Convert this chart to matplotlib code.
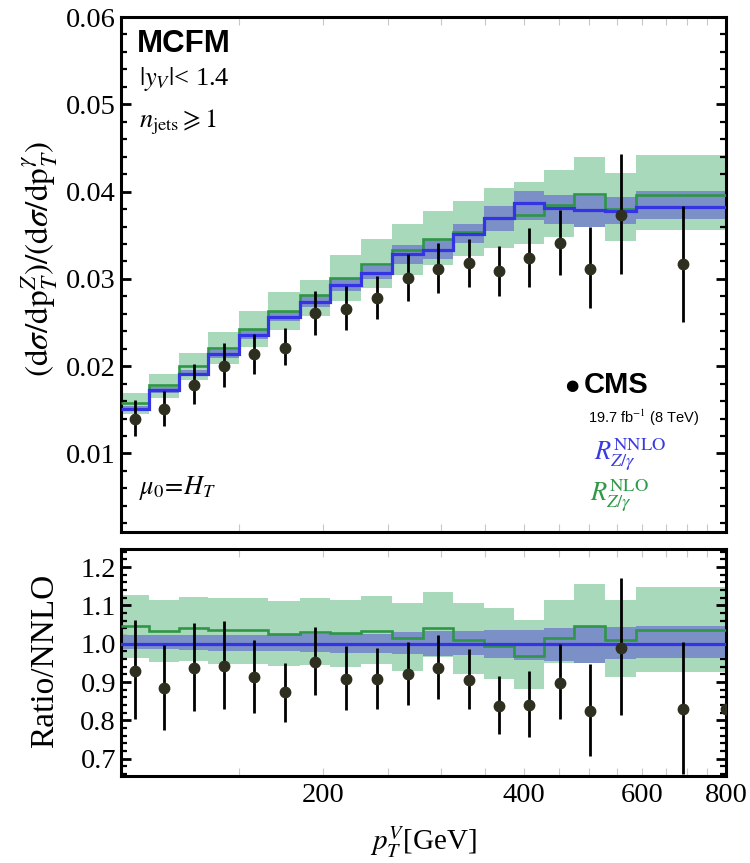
import numpy as np
import matplotlib
matplotlib.use("Agg")
import matplotlib.pyplot as plt
from matplotlib.ticker import FixedLocator, NullFormatter, MultipleLocator

plt.rcParams['font.family'] = ['Liberation Serif', 'DejaVu Serif']
plt.rcParams['mathtext.fontset'] = 'stix'

# ---------------- data ----------------
edges = [100, 110, 122, 135, 150, 166, 185, 205, 228, 254, 282, 313, 348, 386, 428, 475, 528, 587, 800]

nnlo = [0.01509, 0.01724, 0.01916, 0.02134, 0.02356, 0.02563, 0.02739, 0.02930, 0.03071,
        0.03284, 0.03332, 0.03513, 0.03700, 0.03866, 0.03813, 0.03790, 0.03774, 0.03828]
nnlo_lo = [0.01485, 0.01698, 0.01884, 0.02096, 0.02314, 0.02512, 0.02679, 0.02860, 0.02997,
           0.03169, 0.03226, 0.03410, 0.03552, 0.03675, 0.03629, 0.03590, 0.03629, 0.03686]
nnlo_hi = [0.01545, 0.01762, 0.01958, 0.02185, 0.02413, 0.02627, 0.02810, 0.03009, 0.03149,
           0.03387, 0.03445, 0.03629, 0.03839, 0.04011, 0.03962, 0.03954, 0.03935, 0.04003]

nlo = [0.01578, 0.01782, 0.01997, 0.02207, 0.02429, 0.02628, 0.02820, 0.03008, 0.03172,
       0.03326, 0.03462, 0.03540, 0.03698, 0.03732, 0.03851, 0.03974, 0.03801, 0.03966]
nlo_lo = [0.01452, 0.01636, 0.01836, 0.02027, 0.02222, 0.02410, 0.02575, 0.02751, 0.02897,
          0.03048, 0.03160, 0.03258, 0.03353, 0.03399, 0.03483, 0.03590, 0.03437, 0.03560]
nlo_hi = [0.01690, 0.01916, 0.02153, 0.02391, 0.02632, 0.02851, 0.02989, 0.03274, 0.03456,
          0.03629, 0.03782, 0.03887, 0.04043, 0.04107, 0.04250, 0.04394, 0.04210, 0.04414]

cms_x = [105, 116, 128.5, 142.5, 158, 175.5, 195, 216.5, 241, 268, 297.5, 330.5, 367, 407,
         451.5, 501.5, 557.5, 690]
cms_y = [0.0140, 0.0151, 0.0179, 0.0200, 0.02134, 0.02211, 0.02606, 0.02650, 0.02776,
         0.03006, 0.03111, 0.03178, 0.03086, 0.03238, 0.03410, 0.03111, 0.03732, 0.03169]
cms_hi = [0.0161, 0.01721, 0.02027, 0.02268, 0.02368, 0.02433, 0.02858, 0.02916, 0.03038,
          0.03284, 0.03408, 0.03460, 0.03379, 0.03583, 0.03793, 0.03590, 0.04433, 0.03839]
cms_lo = [0.01195, 0.01318, 0.01567, 0.01759, 0.01911, 0.02019, 0.02360, 0.02410, 0.02537,
          0.02747, 0.02843, 0.02905, 0.02805, 0.02908, 0.03043, 0.02663, 0.03061, 0.02509]

# ratio panel
r_nlo = [1.046, 1.033, 1.041, 1.035, 1.035, 1.025, 1.031, 1.027, 1.033, 1.014, 1.040, 1.009,
         0.994, 0.967, 1.014, 1.047, 1.009, 1.035]
r_nlo_hi = [1.127, 1.114, 1.122, 1.118, 1.119, 1.112, 1.119, 1.115, 1.124, 1.107, 1.134, 1.107,
            1.092, 1.061, 1.114, 1.155, 1.115, 1.148]
r_nlo_lo = [0.964, 0.953, 0.955, 0.947, 0.946, 0.941, 0.944, 0.940, 0.948, 0.929, 0.966, 0.920,
            0.909, 0.881, 0.950, 0.950, 0.913, 0.926]
r_nnlo_hi = [1.022, 1.022, 1.022, 1.024, 1.024, 1.025, 1.026, 1.027, 1.026, 1.030, 1.032, 1.033,
             1.036, 1.037, 1.040, 1.043, 1.043, 1.045]
r_nnlo_lo = [0.985, 0.985, 0.983, 0.982, 0.982, 0.980, 0.978, 0.976, 0.975, 0.972, 0.968, 0.970,
             0.963, 0.958, 0.955, 0.950, 0.960, 0.963]

r_x = [105, 116, 128.5, 142.5, 158, 175.5, 195, 216.5, 241, 268, 297.5, 330.5, 367, 407,
       451.5, 501.5, 557.5, 690, 800]
r_y = [0.929, 0.885, 0.938, 0.943, 0.912, 0.873, 0.953, 0.909, 0.909, 0.920, 0.938, 0.906,
       0.838, 0.841, 0.898, 0.825, 0.990, 0.831, 0.831]
r_hi = [1.061, 0.996, 1.053, 1.059, 1.009, 0.950, 1.044, 0.993, 0.990, 1.005, 1.022, 0.986,
        0.915, 0.929, 0.999, 0.948, 1.172, 1.005, 0.831]
r_lo = [0.803, 0.776, 0.825, 0.831, 0.820, 0.796, 0.866, 0.828, 0.829, 0.839, 0.857, 0.831,
        0.764, 0.757, 0.803, 0.706, 0.815, 0.661, 0.831]

xticks = [200, 400, 600, 800]
xminor = [150, 250, 300, 350, 450, 500, 550, 650, 700, 750]

# ---------------- style ----------------
C_GB = '#a9d9bb'
C_BB = '#7b90c6'
C_BL = '#3434e4'
C_GL = '#2e9646'
C_PT = '#2f2f1f'

fig = plt.figure(figsize=(7.5, 8.63), dpi=100)
ax1 = fig.add_axes([0.1613, 0.3835, 0.8067, 0.5968])
ax2 = fig.add_axes([0.1613, 0.1008, 0.8067, 0.2630])


def style(ax):
    ax.set_xscale('log')
    ax.set_xlim(100, 800)
    for s in ax.spines.values():
        s.set_linewidth(2.2)
    ax.xaxis.set_major_locator(FixedLocator(xticks))
    ax.xaxis.set_minor_locator(FixedLocator(xminor))
    ax.xaxis.set_minor_formatter(NullFormatter())
    ax.tick_params(axis='x', which='both', direction='in', top=True, bottom=True,
                   color='#c8c8c8', width=0.8, length=6)
    ax.tick_params(axis='y', which='major', direction='in', left=True, right=True,
                   length=7, width=2.0, labelsize=20.5)
    ax.tick_params(axis='y', which='minor', direction='in', left=True, right=True,
                   length=4, width=1.6)
    ax.tick_params(axis='x', which='major', labelsize=20.5, pad=5)


style(ax1)
style(ax2)

# top panel
ax1.stairs(nlo_hi, edges, baseline=nlo_lo, fill=True, color=C_GB, lw=0, zorder=1)
ax1.stairs(nnlo_hi, edges, baseline=nnlo_lo, fill=True, color=C_BB, lw=0, zorder=2)
ax1.stairs(nlo, edges, baseline=None, color=C_GL, lw=1.9, zorder=3)
ax1.stairs(nnlo, edges, baseline=None, color=C_BL, lw=2.3, zorder=4)
yerr = [np.array(cms_y) - np.array(cms_lo), np.array(cms_hi) - np.array(cms_y)]
ax1.errorbar(cms_x, cms_y, yerr=yerr, fmt='o', color=C_PT, ms=7.5, ecolor='black',
             elinewidth=2.0, capsize=0, zorder=5)
ax1.set_ylim(0.001, 0.06)
ax1.yaxis.set_major_locator(FixedLocator([0.01, 0.02, 0.03, 0.04, 0.05, 0.06]))
ax1.yaxis.set_major_formatter(matplotlib.ticker.FuncFormatter(lambda v, p: f'{v:.2f}'))
ax1.yaxis.set_minor_locator(MultipleLocator(0.002))
ax1.tick_params(axis='x', which='both', labelbottom=False)
ax1.set_ylabel(r'$(\mathrm{d}\sigma/\mathrm{dp}_T^Z)/(\mathrm{d}\sigma/\mathrm{dp}_T^{\gamma})$',
               fontsize=24)
ax1.yaxis.set_label_coords(-0.10, 0.53)

# annotations
ax1.text(0.026, 0.948, 'MCFM', transform=ax1.transAxes, fontsize=22.5, fontweight='bold',
         family='Liberation Sans', va='center', ha='left')
ax1.text(0.030, 0.880, r'$|y_V|$< 1.4', transform=ax1.transAxes, fontsize=19,
         va='center', ha='left')
ax1.text(0.030, 0.795, r'$n_{\mathrm{jets}}\geqslant 1$', transform=ax1.transAxes, fontsize=19,
         va='center', ha='left')
ax1.text(0.030, 0.085, r'$\mu_0\!=\!H_T$', transform=ax1.transAxes, fontsize=19,
         va='center', ha='left')
ax1.text(0.745, 0.285, '\u25CF', transform=ax1.transAxes, fontsize=11, family='DejaVu Sans',
         va='center', ha='center')
ax1.text(0.765, 0.285, 'CMS', transform=ax1.transAxes, fontsize=21, fontweight='bold',
         family='Liberation Sans', va='center', ha='left')
ax1.text(0.772, 0.222, r'19.7 fb$^{-1}$ (8 TeV)', transform=ax1.transAxes, fontsize=10.5,
         family='Liberation Sans', va='center', ha='left')
ax1.text(0.782, 0.150, r'$R_{Z/\gamma}^{\mathrm{NNLO}}$', transform=ax1.transAxes, fontsize=19,
         color='#3a3ae2', va='center', ha='left')
ax1.text(0.776, 0.070, r'$R_{Z/\gamma}^{\mathrm{NLO}}$', transform=ax1.transAxes, fontsize=19,
         color='#2e9a46', va='center', ha='left')

# ratio panel
ax2.stairs(r_nlo_hi, edges, baseline=r_nlo_lo, fill=True, color=C_GB, lw=0, zorder=1)
ax2.stairs(r_nnlo_hi, edges, baseline=r_nnlo_lo, fill=True, color=C_BB, lw=0, zorder=2)
ax2.stairs(r_nlo, edges, baseline=None, color=C_GL, lw=1.9, zorder=3)
ax2.axhline(1.0, color=C_BL, lw=2.3, zorder=4)
ryerr = [np.array(r_y) - np.array(r_lo), np.array(r_hi) - np.array(r_y)]
ax2.errorbar(r_x, r_y, yerr=ryerr, fmt='o', color=C_PT, ms=7.5, ecolor='black',
             elinewidth=2.0, capsize=0, zorder=5)
ax2.set_ylim(0.655, 1.247)
ax2.yaxis.set_major_locator(FixedLocator([0.7, 0.8, 0.9, 1.0, 1.1, 1.2]))
ax2.yaxis.set_major_formatter(matplotlib.ticker.FuncFormatter(lambda v, p: f'{v:.1f}'))
ax2.yaxis.set_minor_locator(MultipleLocator(0.02))
ax2.xaxis.set_major_formatter(matplotlib.ticker.FuncFormatter(lambda v, p: f'{v:.0f}'))
ax2.set_ylabel('Ratio/NNLO', fontsize=24)
ax2.yaxis.set_label_coords(-0.10, 0.507)
ax2.set_xlabel(r'$p_T^V$[GeV]', fontsize=21)
ax2.xaxis.set_label_coords(0.5, -0.215)

fig.savefig('out.png', dpi=100)
